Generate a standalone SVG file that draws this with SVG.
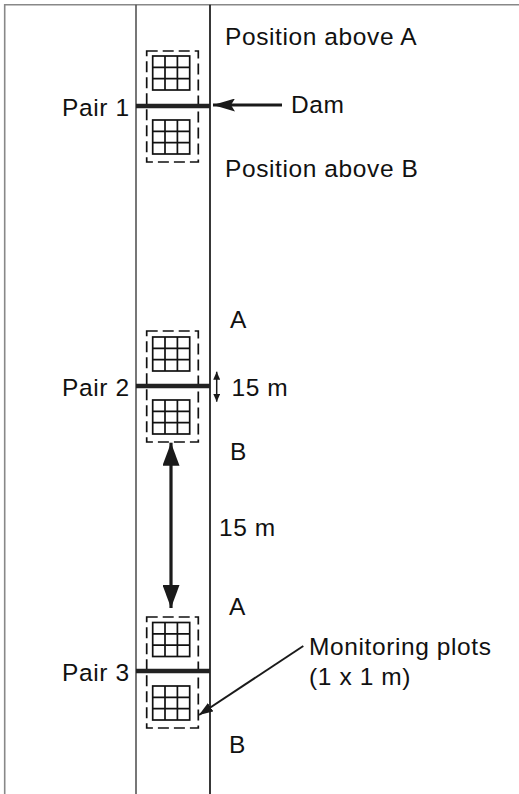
<svg xmlns="http://www.w3.org/2000/svg" width="519" height="794" viewBox="0 0 519 794">
  <style>
    .lbl { font-family: "Liberation Sans", Arial, sans-serif; font-size: 24.5px; fill: #111; letter-spacing: 0.6px; }
    .frame { stroke: #888; stroke-width: 1.6; fill: none; }
    .bank { stroke: #555; stroke-width: 1.6; fill: none; }
    .bank2 { stroke: #222; stroke-width: 1.8; fill: none; }
    .dam { stroke: #222; stroke-width: 4.5; }
    .plotArea { fill: none; stroke: #111; stroke-width: 1.7; stroke-dasharray: 11 5; }
    .grid { fill: none; stroke: #111; stroke-width: 1.7; }
    .conn { stroke: #1a1a1a; fill: none; }
  </style>
  <defs>
    <!-- 3 x 3 monitoring plot grid -->
    <g id="plot">
      <rect class="grid" x="0" y="0" width="37" height="34"/>
      <path class="grid" d="M12.3 0V34M24.7 0V34M0 11.3H37M0 22.7H37"/>
    </g>
    <marker id="bigHead" viewBox="0 0 23 17" refX="23" refY="8.5" markerWidth="23" markerHeight="17" markerUnits="userSpaceOnUse" orient="auto-start-reverse">
      <path d="M0 0L23 8.5L0 17Z" fill="#1a1a1a"/>
    </marker>
    <marker id="damHead" viewBox="0 0 22 13" refX="22" refY="6.5" markerWidth="22" markerHeight="13" markerUnits="userSpaceOnUse" orient="auto">
      <path d="M0 0L22 6.5L0 13L4 6.5Z" fill="#1a1a1a"/>
    </marker>
    <marker id="smallHead" viewBox="0 0 8 7" refX="8" refY="3.5" markerWidth="8" markerHeight="7" markerUnits="userSpaceOnUse" orient="auto-start-reverse">
      <path d="M0 0L8 3.5L0 7Z" fill="#1a1a1a"/>
    </marker>
    <marker id="leadHead" viewBox="0 0 14 10" refX="14" refY="5" markerWidth="14" markerHeight="10" markerUnits="userSpaceOnUse" orient="auto">
      <path d="M0 0L14 5L0 10Z" fill="#1a1a1a"/>
    </marker>
  </defs>

  <rect width="519" height="794" fill="#fff"/>

  <!-- page frame and stream banks -->
  <g id="frame">
    <path class="frame" d="M4.7 794V4.7H519"/>
    <path class="bank" d="M136 4.7V794"/>
    <path class="bank2" d="M210 4.7V794"/>
  </g>

  <g id="pair1">
    <rect class="plotArea" x="146.7" y="51" width="51.6" height="111"/>
    <use href="#plot" x="152.7" y="56"/>
    <use href="#plot" x="152.7" y="120"/>
    <line class="dam" x1="136" y1="106" x2="210" y2="106"/>
    <text class="lbl" x="62" y="115.7">Pair 1</text>
  </g>

  <g id="pair2">
    <rect class="plotArea" x="146.7" y="331" width="51.6" height="111"/>
    <use href="#plot" x="152.7" y="337"/>
    <use href="#plot" x="152.7" y="400"/>
    <line class="dam" x1="136" y1="386" x2="210" y2="386"/>
    <text class="lbl" x="62" y="395.7">Pair 2</text>
  </g>

  <g id="pair3">
    <rect class="plotArea" x="146.7" y="617" width="51.6" height="111"/>
    <use href="#plot" x="152.7" y="622.5"/>
    <use href="#plot" x="152.7" y="686"/>
    <line class="dam" x1="136" y1="671" x2="210" y2="671"/>
    <text class="lbl" x="62" y="680.7">Pair 3</text>
  </g>

  <!-- position labels -->
  <g id="labels">
    <text class="lbl" x="225" y="45">Position above A</text>
    <text class="lbl" x="225" y="177">Position above B</text>
    <text class="lbl" x="291" y="113.3">Dam</text>
    <text class="lbl" x="230" y="328.3">A</text>
    <text class="lbl" x="230" y="460">B</text>
    <text class="lbl" x="231.5" y="396">15 m</text>
    <text class="lbl" x="219" y="536">15 m</text>
    <text class="lbl" x="229" y="615">A</text>
    <text class="lbl" x="229" y="753">B</text>
    <text class="lbl" x="309" y="655">Monitoring plots</text>
    <text class="lbl" x="309" y="685">(1 x 1 m)</text>
  </g>

  <g id="connectors">
    <line class="conn" x1="282" y1="105" x2="213" y2="105" stroke-width="3" marker-end="url(#damHead)"/>
    <line class="conn" x1="216.7" y1="371.7" x2="216.7" y2="401.7" stroke-width="1.5" marker-start="url(#smallHead)" marker-end="url(#smallHead)"/>
    <line class="conn" x1="171" y1="442.7" x2="171" y2="608" stroke-width="3.2" marker-start="url(#bigHead)" marker-end="url(#bigHead)"/>
    <line class="conn" x1="303.3" y1="646" x2="199" y2="715" stroke-width="2" marker-end="url(#leadHead)"/>
  </g>
</svg>
